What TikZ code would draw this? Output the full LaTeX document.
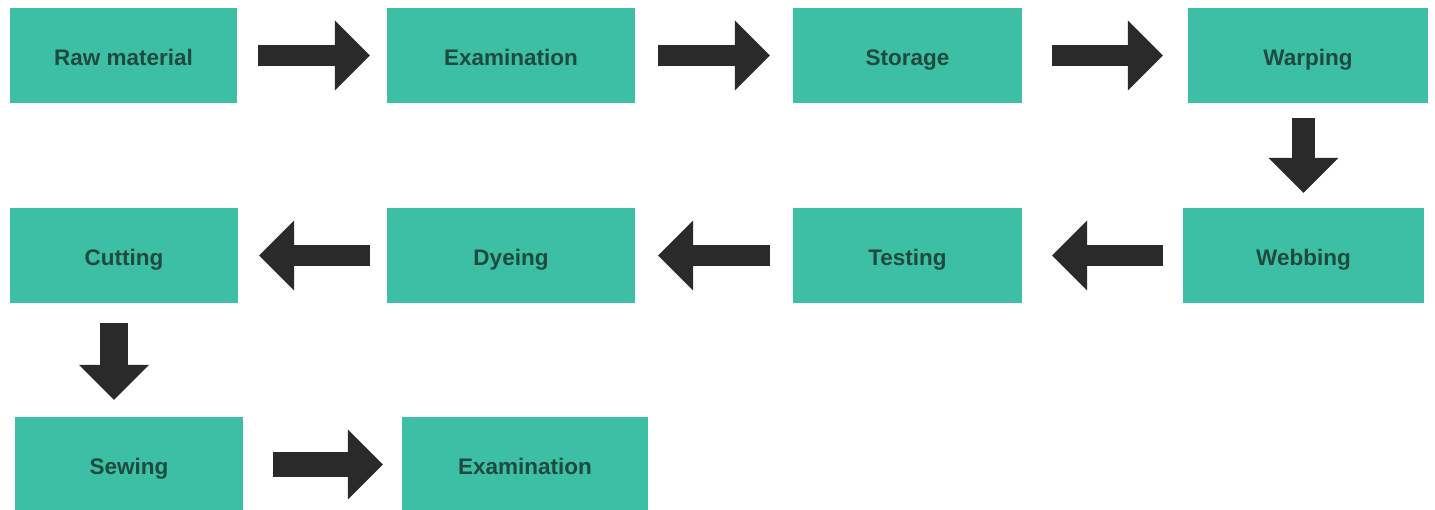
\documentclass[tikz,border=0pt]{standalone}
\usepackage{fontspec}
\setmainfont{Liberation Sans}
\usetikzlibrary{arrows.meta,calc}
\definecolor{boxfill}{HTML}{3CBFA4}
\definecolor{boxtext}{HTML}{1E4A3F}
\definecolor{arrcol}{HTML}{2A2A2A}
\tikzset{
  stepbox/.style={fill=boxfill, text=boxtext, inner sep=0pt, minimum height=95pt,
    font=\fontsize{22.5}{26}\selectfont\bfseries, text height=20pt, text depth=0pt, anchor=center},
  flowarrow/.style={draw=arrcol, line width=21pt,
    -{Triangle[length=35pt,width=70pt,line width=0pt]}},
}
\begin{document}
\begin{tikzpicture}[x=1pt,y=-1pt]
\useasboundingbox (0,0) rectangle (1435,510);
% row 1
\node[stepbox, minimum width=227pt] (raw)   at (123.5,55.5) {Raw material};
\node[stepbox, minimum width=248pt] (exam1) at (511,55.5)   {Examination};
\node[stepbox, minimum width=229pt] (stor)  at (907.5,55.5) {Storage};
\node[stepbox, minimum width=240pt] (warp)  at (1308,55.5)  {Warping};
% row 2
\node[stepbox, minimum width=228pt] (cut)   at (124,255.5)  {Cutting};
\node[stepbox, minimum width=248pt] (dye)   at (511,255.5)  {Dyeing};
\node[stepbox, minimum width=229pt] (test)  at (907.5,255.5){Testing};
\node[stepbox, minimum width=241pt] (web)   at (1303.5,255.5){Webbing};
% row 3
\node[stepbox, minimum width=228pt] (sew)   at (129,464.5)  {Sewing};
\node[stepbox, minimum width=246pt] (exam2) at (525,464.5)  {Examination};
% connectors
\draw[flowarrow, shorten <=21pt, shorten >=17pt] (raw.east) -- (exam1.west);
\draw[flowarrow, shorten <=23pt, shorten >=23pt] (exam1.east) -- (stor.west);
\draw[flowarrow, shorten <=30pt, shorten >=25pt] (stor.east) -- (warp.west);
\draw[flowarrow, line width=23pt, shorten <=15pt, shorten >=15pt] (warp.south -| web.north) -- (web.north);
\draw[flowarrow, shorten <=20pt, shorten >=30pt] (web.west) -- (test.east);
\draw[flowarrow, shorten <=23pt, shorten >=23pt] (test.west) -- (dye.east);
\draw[flowarrow, shorten <=17pt, shorten >=21pt] (dye.west) -- (cut.east);
\draw[flowarrow, line width=28pt, shorten <=20pt, shorten >=17pt] ([xshift=-10pt]cut.south) -- ([xshift=-10pt]cut.south |- sew.north);
\draw[flowarrow, line width=25pt, shorten <=30pt, shorten >=19pt] (sew.east) -- (exam2.west);
\end{tikzpicture}
\end{document}
